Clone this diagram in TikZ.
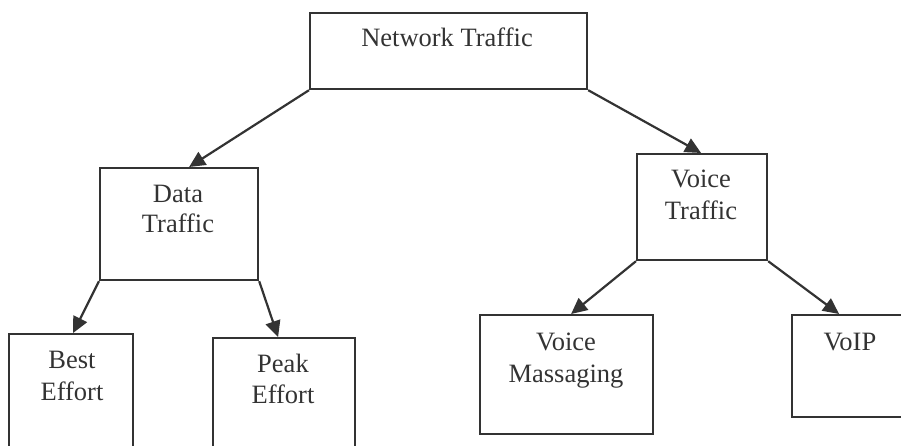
\documentclass[tikz,border=0pt]{standalone}
\usepackage{fontspec}
\setmainfont{Liberation Serif}
\usetikzlibrary{arrows.meta}
\definecolor{ink}{HTML}{333333}
\begin{document}
\begin{tikzpicture}[x=1pt,y=-1pt,
  box/.style={draw=ink,line width=2.2pt,rectangle,inner sep=0pt,anchor=north west},
  lbl/.style={text=ink,font=\fontsize{26.5}{30}\selectfont,anchor=base,inner sep=0pt},
  conn/.style={draw=ink,line width=2.2pt,-{Triangle[length=16pt,width=15pt]}}]
\useasboundingbox (0,0) rectangle (901,446);
\clip (0,0) rectangle (901,446);
% boxes
\node[box,minimum width=277pt,minimum height=76pt] (nt) at (309,12) {};
\node[box,minimum width=158pt,minimum height=112pt] (dt) at (99,167) {};
\node[box,minimum width=130pt,minimum height=106pt] (vt) at (636,153) {};
\node[box,minimum width=124pt,minimum height=130pt] (be) at (8,333) {};
\node[box,minimum width=142pt,minimum height=130pt] (pe) at (212,337) {};
\node[box,minimum width=173pt,minimum height=119pt] (vm) at (479,314) {};
\node[box,minimum width=200pt,minimum height=102pt] (vo) at (791,314) {};
% labels
\node[lbl] (ntl) at (447,47) {Network Traffic};
\node[lbl] (dtl1) at (178,203) {Data};
\node[lbl] (dtl2) at (178,233) {Traffic};
\node[lbl] (vtl1) at (701,188) {Voice};
\node[lbl] (vtl2) at (701,220) {Traffic};
\node[lbl] (bel1) at (72,368) {Best};
\node[lbl] (bel2) at (72,400) {Effort};
\node[lbl] (pel1) at (283,372) {Peak};
\node[lbl] (pel2) at (283,403) {Effort};
\node[lbl] (vml1) at (566,350) {Voice};
\node[lbl] (vml2) at (566,382) {Massaging};
\node[lbl] (vol) at (850,350) {VoIP};
% connectors
\draw[conn] (nt.south west) -- ([xshift=10pt]dt.north);
\draw[conn] (nt.south east) -- ([xshift=-1pt]vt.north);
\draw[conn] (dt.south west) -- ([xshift=2pt]be.north);
\draw[conn] (dt.south east) -- ([xshift=-6pt]pe.north);
\draw[conn] (vt.south west) -- ([xshift=4.5pt]vm.north);
\draw[conn] (vt.south east) -- ([xshift=-53pt]vo.north);
\end{tikzpicture}
\end{document}
